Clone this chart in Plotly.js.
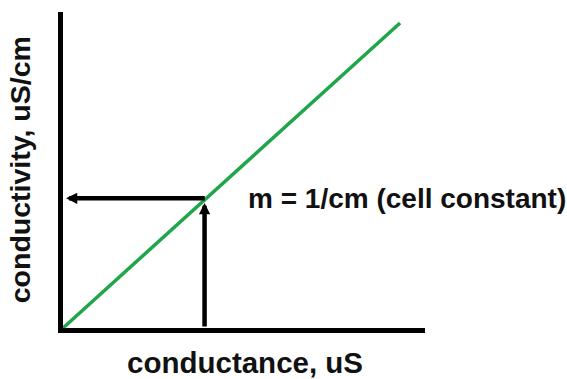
<!DOCTYPE html>
<html>
<head>
<meta charset="utf-8">
<script src="https://cdn.plot.ly/plotly-3.0.1.min.js"></script>
<style>html,body{margin:0;padding:0;background:#fff;}#chart{width:567px;height:379px;}</style>
</head>
<body>
<div id="chart"></div>
<script>
// Data
var conductance = [0, 10];
var conductivity = [0, 10];
var markPoint = [4.2, 4.25];   // conductance, conductivity at marked point
var xTitle = "conductance, uS";
var yTitle = "conductivity, uS/cm";
var slopeLabel = "m = 1/cm (cell constant)";

var FONT = "Liberation Sans, Arial, sans-serif";

var trace = {
  x: conductance,
  y: conductivity,
  type: "scatter",
  mode: "lines",
  line: {color: "#1fa64a", width: 3.5},
  hoverinfo: "none",
  cliponaxis: false
};

var layout = {
  width: 567,
  height: 379,
  margin: {l: 63, r: 142, t: 12, b: 51},
  paper_bgcolor: "#fff",
  plot_bgcolor: "#fff",
  showlegend: false,
  xaxis: {
    range: [0, 10.74],
    showline: true, linecolor: "#000", linewidth: 5,
    showgrid: false, zeroline: false, showticklabels: false, ticks: ""
  },
  yaxis: {
    range: [0, 10.36],
    showline: true, linecolor: "#000", linewidth: 5,
    showgrid: false, zeroline: false, showticklabels: false, ticks: ""
  },
  annotations: [
    {
      // vertical arrow from x-axis up to the line
      x: markPoint[0], y: markPoint[1] - 0.15,
      ax: markPoint[0], ay: 0,
      xref: "x", yref: "y", axref: "x", ayref: "y",
      text: "", showarrow: true, arrowhead: 2, arrowsize: 0.5, arrowwidth: 4.5,
      arrowcolor: "#000", standoff: 0, startstandoff: 0
    },
    {
      // horizontal arrow from the line to the y-axis
      x: 0.09, y: markPoint[1],
      ax: markPoint[0] + 0.05, ay: markPoint[1],
      xref: "x", yref: "y", axref: "x", ayref: "y",
      text: "", showarrow: true, arrowhead: 2, arrowsize: 0.5, arrowwidth: 4.5,
      arrowcolor: "#000", standoff: 0, startstandoff: 0
    },
    {
      text: "<b>" + slopeLabel + "</b>",
      xref: "paper", yref: "paper", x: 0.505, y: 0.411,
      xanchor: "left", yanchor: "middle", showarrow: false,
      font: {family: FONT, size: 28, color: "#111"}
    },
    {
      text: "<b>" + xTitle + "</b>",
      xref: "paper", yref: "paper", x: 0.503, y: -0.11,
      xanchor: "center", yanchor: "middle", showarrow: false,
      font: {family: FONT, size: 29.5, color: "#111"}
    },
    {
      text: "<b>" + yTitle + "</b>",
      xref: "paper", yref: "paper", x: -0.118, y: 0.5,
      xanchor: "center", yanchor: "middle", showarrow: false, textangle: -90,
      font: {family: FONT, size: 28.5, color: "#111"}
    }
  ]
};

Plotly.newPlot("chart", [trace], layout, {staticPlot: true, displayModeBar: false});
</script>
</body>
</html>
